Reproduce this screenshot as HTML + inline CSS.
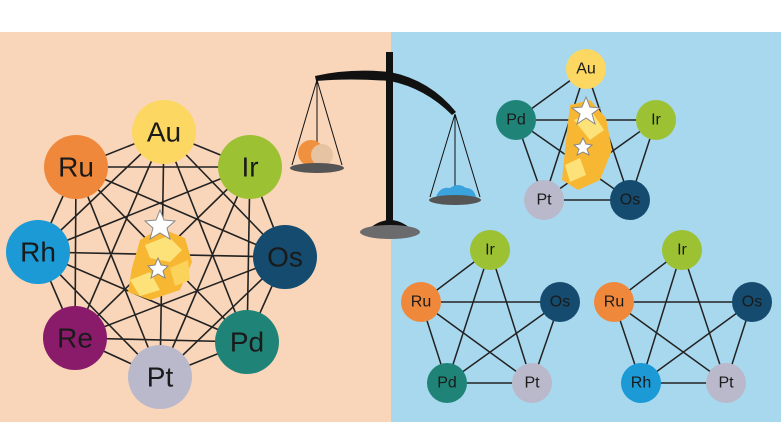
<!DOCTYPE html>
<html><head><meta charset="utf-8"><style>
body{margin:0;width:781px;height:439px;overflow:hidden;background:#fff}
svg{display:block}
text{font-family:"Liberation Sans",sans-serif;fill:#1a1a1a;text-anchor:middle;dominant-baseline:central}
</style></head><body>
<svg width="781" height="439" viewBox="0 0 781 439" xmlns="http://www.w3.org/2000/svg">
<rect x="0" y="32" width="391" height="390" fill="#f9d6b9"/>
<rect x="391" y="32" width="390" height="390" fill="#a8d8ee"/>
<g stroke="#222" stroke-width="1.6" fill="none">
<path d="M164 132L76 167M164 132L250 167M164 132L38 252M164 132L285 257M164 132L75 338M164 132L247 342M164 132L160 377
M76 167L250 167M76 167L38 252M76 167L285 257M76 167L75 338M76 167L247 342M76 167L160 377
M250 167L38 252M250 167L285 257M250 167L75 338M250 167L247 342M250 167L160 377
M38 252L285 257M38 252L75 338M38 252L247 342M38 252L160 377
M285 257L75 338M285 257L247 342M285 257L160 377
M75 338L247 342M75 338L160 377M247 342L160 377"/>
</g>
<g>
<polygon points="140,240 160,228 185,238 192,262 180,290 150,300 128,292 132,268" fill="#f7b733"/>
<polygon points="145,245 168,236 182,250 170,262 150,258" fill="#fde27a"/>
<polygon points="130,280 150,272 160,290 140,296" fill="#fde27a"/>
<polygon points="170,268 188,260 190,280 175,286" fill="#fbd35a"/>
<polygon points="160,210 164,220 175,221 167,228 170,239 160,233 150,239 153,228 145,221 156,220" fill="#fff" stroke="#888" stroke-width="1"/>
<polygon points="158,258 161,265 168,266 163,271 165,278 158,274 151,278 153,271 148,266 155,265" fill="#fff" stroke="#888" stroke-width="1"/>
</g>
<g font-size="28">
<circle cx="164" cy="132" r="32" fill="#fcd762"/><text x="164" y="132">Au</text>
<circle cx="76" cy="167" r="32" fill="#f0883b"/><text x="76" y="167">Ru</text>
<circle cx="250" cy="167" r="32" fill="#9cc133"/><text x="250" y="167">Ir</text>
<circle cx="38" cy="252" r="32" fill="#1b9ad6"/><text x="38" y="252">Rh</text>
<circle cx="285" cy="257" r="32" fill="#144b6e"/><text x="285" y="257">Os</text>
<circle cx="75" cy="338" r="32" fill="#8a1b6b"/><text x="75" y="338">Re</text>
<circle cx="247" cy="342" r="32" fill="#1f8477"/><text x="247" y="342">Pd</text>
<circle cx="160" cy="377" r="32" fill="#b9b9cb"/><text x="160" y="377">Pt</text>
</g>
<!-- scale -->
<g fill="#111">
<rect x="386" y="52" width="7" height="172"/>
<path d="M315 76 Q350 68 390 72 Q430 80 456 112 L452 115 Q425 88 390 81 Q350 78 316 81Z"/>
<path d="M370 228 Q390 212 410 228Z"/>
</g>
<g stroke="#111" stroke-width="1" fill="none">
<path d="M317 80L292 165M317 80L342 165M317 80L317 165"/>
<path d="M455 114L430 197M455 114L480 197M455 114L455 197"/>
</g>
<ellipse cx="390" cy="232" rx="30" ry="7" fill="#6b6b6e"/>
<circle cx="311" cy="153" r="13" fill="#f0913f"/><circle cx="322" cy="155" r="11" fill="#e6c3a2"/>
<ellipse cx="317" cy="168" rx="27" ry="5" fill="#555"/>
<path d="M436 197 Q440 186 450 188 Q458 182 466 188 Q474 188 476 197Z" fill="#3aa3de"/>
<ellipse cx="455" cy="200" rx="26" ry="5" fill="#555"/>
<!-- top pentagon -->
<g stroke="#222" stroke-width="1.5" fill="none"><path d="M586 69L516 120L656 120L544 200L630 200L586 69L544 200M586 69L630 200M516 120L630 200M516 120L544 200M656 120L630 200M656 120L544 200"/></g>
<polygon points="570,105 590,100 606,118 612,150 600,180 578,190 562,180 566,140" fill="#f7b733"/>
<polygon points="574,120 592,112 604,130 590,140" fill="#fde27a"/>
<polygon points="565,165 580,158 586,175 570,182" fill="#fde27a"/>
<polygon points="586,97 590,107 600,108 592,114 595,124 586,118 577,124 580,114 572,108 582,107" fill="#fff" stroke="#888"/>
<polygon points="583,138 586,144 592,145 587,149 589,155 583,152 577,155 579,149 574,145 580,144" fill="#fff" stroke="#888"/>
<g font-size="16">
<circle cx="586" cy="69" r="20" fill="#fcd762"/><text x="586" y="69">Au</text>
<circle cx="516" cy="120" r="20" fill="#1f8477"/><text x="516" y="120">Pd</text>
<circle cx="656" cy="120" r="20" fill="#9cc133"/><text x="656" y="120">Ir</text>
<circle cx="544" cy="200" r="20" fill="#b9b9cb"/><text x="544" y="200">Pt</text>
<circle cx="630" cy="200" r="20" fill="#144b6e"/><text x="630" y="200">Os</text>
</g>
<g stroke="#222" stroke-width="1.5" fill="none"><path d="M490 250L421 302L560 302L447 383L532 383L490 250L447 383M490 250L532 383M421 302L532 383M421 302L447 383M560 302L532 383M560 302L447 383"/></g>
<g font-size="16">
<circle cx="490" cy="250" r="20" fill="#9cc133"/><text x="490" y="250">Ir</text>
<circle cx="421" cy="302" r="20" fill="#f0883b"/><text x="421" y="302">Ru</text>
<circle cx="560" cy="302" r="20" fill="#144b6e"/><text x="560" y="302">Os</text>
<circle cx="447" cy="383" r="20" fill="#1f8477"/><text x="447" y="383">Pd</text>
<circle cx="532" cy="383" r="20" fill="#b9b9cb"/><text x="532" y="383">Pt</text>
</g>
<g stroke="#222" stroke-width="1.5" fill="none"><path d="M682 250L614 302L752 302L641 383L726 383L682 250L641 383M682 250L726 383M614 302L726 383M614 302L641 383M752 302L726 383M752 302L641 383"/></g>
<g font-size="16">
<circle cx="682" cy="250" r="20" fill="#9cc133"/><text x="682" y="250">Ir</text>
<circle cx="614" cy="302" r="20" fill="#f0883b"/><text x="614" y="302">Ru</text>
<circle cx="752" cy="302" r="20" fill="#144b6e"/><text x="752" y="302">Os</text>
<circle cx="641" cy="383" r="20" fill="#1b9ad6"/><text x="641" y="383">Rh</text>
<circle cx="726" cy="383" r="20" fill="#b9b9cb"/><text x="726" y="383">Pt</text>
</g>
</svg>
</body></html>
